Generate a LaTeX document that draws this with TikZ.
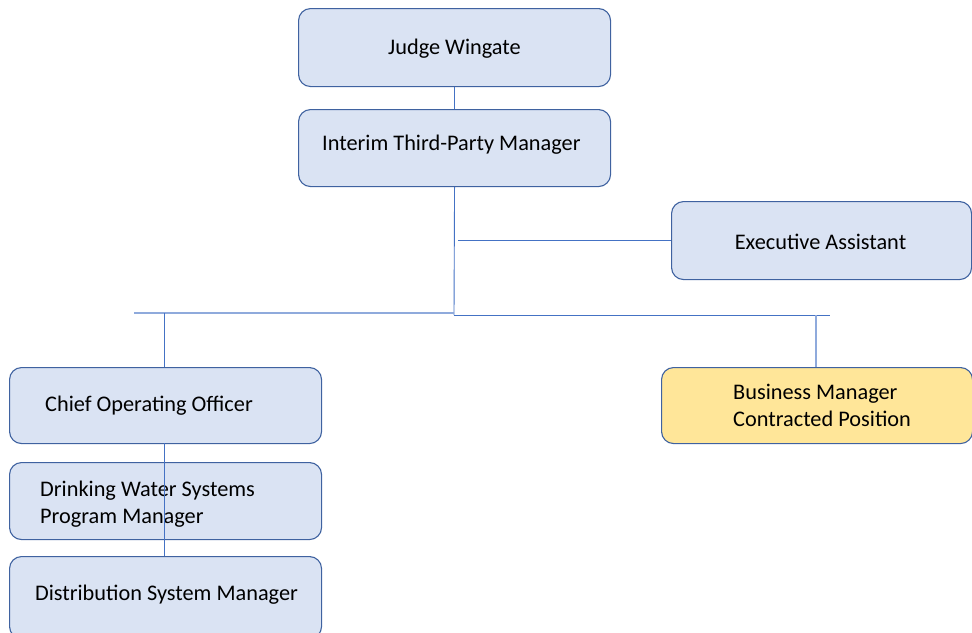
\documentclass[tikz,border=0pt]{standalone}
\usepackage{fontspec}
\setmainfont{Carlito}
\definecolor{boxfill}{HTML}{DAE3F3}
\definecolor{yelfill}{HTML}{FFE699}
\definecolor{boxline}{HTML}{3F62A0}
\definecolor{conn}{HTML}{4472C4}
\definecolor{connlight}{HTML}{8FAADC}
\tikzset{
  orgbox/.style={draw=boxline, line width=1.1pt, fill=boxfill, rounded corners=12pt,
    minimum width=312pt, minimum height=78pt, inner sep=0pt, anchor=north west},
  yelbox/.style={orgbox, fill=yelfill},
  lbl/.style={font=\fontsize{22.3}{26.5}\selectfont, inner sep=0pt, text=black},
  link/.style={draw=conn, line width=0.9pt},
  linklight/.style={draw=connlight, line width=1.2pt}
}
\begin{document}
\begin{tikzpicture}[x=1pt,y=-1pt]
\useasboundingbox (0,0) rectangle (972,632);
% boxes
\node[orgbox] (judge) at (298,8) {};
\node[orgbox, minimum height=77pt] (itpm) at (298,109) {};
\node[orgbox, minimum width=300pt] (exec) at (671,201) {};
\node[orgbox, minimum height=76pt] (coo) at (9,367) {};
\node[orgbox, minimum height=77pt] (dws) at (9,462) {};
\node[orgbox, minimum height=82pt] (dsm) at (9,556) {};
\node[yelbox, minimum width=311pt, minimum height=76pt] (bm) at (661,367) {};
% junction coordinates
\coordinate (j1) at (454,313);
\coordinate (lend) at (134,313);
\coordinate (rend) at (830,315);
\coordinate (j2) at (454,315);
\coordinate (cooTop) at (164,313);
\coordinate (bmTop) at (816,315);
\coordinate (eaStart) at (458,240);
% connectors
\draw[link] (judge.south) -- (itpm.north);
\draw[link] (itpm.south) -- (j2);
\draw[link] (eaStart) -- (exec.west |- eaStart);
\draw[linklight] (lend) -- (j1);
\draw[link] (j2) -- (rend);
\draw[link] (cooTop) -- (cooTop |- coo.north);
\draw[linklight] (bmTop) -- (bmTop |- bm.north);
% texts
\node[lbl] (tjudge) at (454.5,48.5) {Judge Wingate};
\node[lbl, anchor=west] (titpm) at (322,145) {Interim Third-Party Manager};
\node[lbl] (texec) at (820.5,241.5) {Executive Assistant};
\node[lbl, anchor=west] (tcoo) at (45,405.5) {Chief Operating Officer};
\node[lbl, anchor=west, align=left] (tdws) at (40,504) {Drinking Water Systems\\Program Manager};
\node[lbl] (tdsm) at (166.5,594.5) {Distribution System Manager};
\node[lbl, anchor=west, align=left] (tbm) at (733,405.5) {Business Manager\\Contracted Position};
% line through the left column (drawn over boxes)
\draw[link] (164,443) -- (164,556);
\end{tikzpicture}
\end{document}
